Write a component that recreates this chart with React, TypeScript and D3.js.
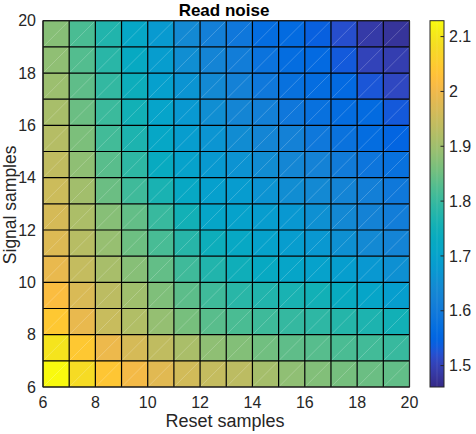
import React from 'react';
import * as d3 from 'd3';

// ---------- data ----------
const resetEdges = [6, 7, 8, 9, 10, 11, 12, 13, 14, 15, 16, 17, 18, 19, 20];
const signalEdges = [6, 7, 8, 9, 10, 11, 12, 13, 14, 15, 16, 17, 18, 19, 20];
// rows: signal samples 6..19 (bottom to top); columns: reset samples 6..19
const readNoise: number[][] = [
  [2.128, 2.081, 2.039, 2.007, 1.981, 1.959, 1.943, 1.933, 1.906, 1.883, 1.870, 1.858, 1.848, 1.840],
  [2.097, 2.044, 1.996, 1.965, 1.938, 1.912, 1.882, 1.871, 1.853, 1.837, 1.830, 1.819, 1.811, 1.800],
  [2.044, 1.991, 1.949, 1.920, 1.888, 1.859, 1.832, 1.819, 1.807, 1.797, 1.790, 1.779, 1.769, 1.753],
  [2.018, 1.970, 1.933, 1.901, 1.867, 1.835, 1.808, 1.784, 1.774, 1.763, 1.753, 1.731, 1.710, 1.689],
  [1.991, 1.943, 1.910, 1.875, 1.841, 1.808, 1.774, 1.747, 1.726, 1.710, 1.700, 1.689, 1.673, 1.657],
  [1.975, 1.928, 1.890, 1.850, 1.817, 1.781, 1.742, 1.721, 1.700, 1.687, 1.673, 1.657, 1.641, 1.628],
  [1.965, 1.914, 1.875, 1.841, 1.800, 1.753, 1.710, 1.700, 1.687, 1.673, 1.657, 1.639, 1.623, 1.609],
  [1.954, 1.903, 1.848, 1.808, 1.763, 1.721, 1.694, 1.684, 1.662, 1.649, 1.641, 1.627, 1.615, 1.597],
  [1.938, 1.882, 1.832, 1.790, 1.731, 1.700, 1.676, 1.662, 1.647, 1.633, 1.622, 1.604, 1.588, 1.578],
  [1.925, 1.864, 1.811, 1.769, 1.716, 1.687, 1.666, 1.647, 1.631, 1.620, 1.596, 1.581, 1.567, 1.551],
  [1.910, 1.848, 1.804, 1.753, 1.705, 1.675, 1.652, 1.631, 1.617, 1.594, 1.578, 1.567, 1.562, 1.532],
  [1.896, 1.837, 1.795, 1.742, 1.694, 1.665, 1.641, 1.620, 1.596, 1.578, 1.567, 1.560, 1.528, 1.509],
  [1.883, 1.827, 1.784, 1.726, 1.687, 1.652, 1.627, 1.609, 1.583, 1.567, 1.560, 1.533, 1.503, 1.495],
  [1.875, 1.819, 1.774, 1.716, 1.678, 1.641, 1.615, 1.594, 1.567, 1.562, 1.541, 1.519, 1.488, 1.477],
];
const colorLimits = [1.461, 2.129];
const xTicks = [6, 8, 10, 12, 14, 16, 18, 20];
const yTicks = [6, 8, 10, 12, 14, 16, 18, 20];
const colorbarTicks = [1.5, 1.6, 1.7, 1.8, 1.9, 2.0, 2.1];
const titleText = 'Read noise';
const xLabelText = 'Reset samples';
const yLabelText = 'Signal samples';

// MATLAB parula colormap (64 entries)
const PARULA = [
  '#352a87', '#363093', '#3637a0', '#353dad', '#3243ba', '#2c4ac7', '#2053d4', '#0f5cdd',
  '#0363e1', '#0268e1', '#046de0', '#0871de', '#0d75dc', '#1079da', '#127dd8', '#1481d6',
  '#1485d4', '#1389d3', '#108ed2', '#0c93d2', '#0998d1', '#079ccf', '#06a0cd', '#06a4ca',
  '#06a7c6', '#07a9c2', '#0aacbe', '#0faeb9', '#15b1b4', '#1db3af', '#25b5a9', '#2eb7a4',
  '#38b99e', '#42bb98', '#4dbc92', '#59bd8c', '#65be86', '#71bf80', '#7cbf7b', '#87bf77',
  '#92bf73', '#9cbf6f', '#a5be6b', '#aebe67', '#b7bd64', '#c0bc60', '#c8bc5d', '#d1bb59',
  '#d9ba56', '#e1b952', '#e9b94e', '#f1b94a', '#f8bb44', '#fdbe3d', '#ffc337', '#fec832',
  '#fcce2e', '#fad32a', '#f7d826', '#f5de21', '#f5e41d', '#f5eb18', '#f6f313', '#f9fb0e',
];

const W = 476;
const H = 434;
const FONT = '"Liberation Sans", Arial, Helvetica, sans-serif';
const TXT = '#262626';

export default function App() {
  const x = d3.scaleLinear().domain([6, 20]).range([43, 409.5]);
  const y = d3.scaleLinear().domain([6, 20]).range([387, 20.7]);
  const color = d3
    .scaleSequential(d3.piecewise(d3.interpolateRgb, PARULA))
    .domain(colorLimits as [number, number])
    .clamp(true);
  const cbX0 = 430;
  const cbX1 = 444;
  const cb = d3.scaleLinear().domain(colorLimits).range([387, 20.7]);

  const cells: JSX.Element[] = [];
  const diags: JSX.Element[] = [];
  readNoise.forEach((row, j) => {
    row.forEach((v, i) => {
      const x0 = x(resetEdges[i]);
      const x1 = x(resetEdges[i + 1]);
      const yb = y(signalEdges[j]);
      const yt = y(signalEdges[j + 1]);
      cells.push(
        <rect key={`c${j}-${i}`} x={x0} y={yt} width={x1 - x0} height={yb - yt} fill={color(v)} />
      );
      diags.push(
        <line key={`d${j}-${i}`} x1={x0} y1={yb} x2={x1} y2={yt} stroke="#ffffff" strokeOpacity={0.3} strokeWidth={0.7} />
      );
    });
  });

  const gridLines: JSX.Element[] = [];
  resetEdges.forEach((r, i) => {
    gridLines.push(<line key={`gv${i}`} x1={x(r)} x2={x(r)} y1={y(6)} y2={y(20)} stroke="#000" strokeWidth={1.2} />);
  });
  signalEdges.forEach((s, i) => {
    gridLines.push(<line key={`gh${i}`} x1={x(6)} x2={x(20)} y1={y(s)} y2={y(s)} stroke="#000" strokeWidth={1.2} />);
  });

  const stops = PARULA.map((c, i) => (
    <stop key={i} offset={`${(i / (PARULA.length - 1)) * 100}%`} stopColor={c} />
  ));

  return (
    <svg width={W} height={H} style={{ position: 'absolute', left: 0, top: 0, background: '#fff' }} fontFamily={FONT}>
      <defs>
        <linearGradient id="cbgrad" x1="0" y1="1" x2="0" y2="0">
          {stops}
        </linearGradient>
      </defs>
      <rect x={0} y={0} width={W} height={H} fill="#fff" />
      <g>{cells}</g>
      <g>{diags}</g>
      <g>{gridLines}</g>
      <rect x={x(6)} y={y(20)} width={x(20) - x(6)} height={y(6) - y(20)} fill="none" stroke={TXT} strokeWidth={1} />

      {xTicks.map((t) => (
        <text key={`xt${t}`} x={x(t)} y={408} textAnchor="middle" fontSize={16} fill={TXT}>
          {t}
        </text>
      ))}
      {yTicks.map((t) => (
        <text key={`yt${t}`} x={36} y={y(t)} dy="0.35em" textAnchor="end" fontSize={16} fill={TXT}>
          {t}
        </text>
      ))}

      <text x={224} y={15.5} textAnchor="middle" fontSize={17} fontWeight="bold" fill="#000">
        {titleText}
      </text>
      <text x={225} y={427} textAnchor="middle" fontSize={18} fill={TXT}>
        {xLabelText}
      </text>
      <text transform={`translate(16,${(y(6) + y(20)) / 2 + 1}) rotate(-90)`} textAnchor="middle" fontSize={17.5} fill={TXT}>
        {yLabelText}
      </text>

      <rect x={cbX0} y={cb(colorLimits[1])} width={cbX1 - cbX0} height={cb(colorLimits[0]) - cb(colorLimits[1])} fill="url(#cbgrad)" />
      <line x1={(cbX0 + cbX1) / 2} x2={(cbX0 + cbX1) / 2} y1={cb(colorLimits[1])} y2={cb(colorLimits[0])} stroke="#fff" strokeOpacity={0.15} strokeWidth={0.7} />
      <rect x={cbX0} y={cb(colorLimits[1])} width={cbX1 - cbX0} height={cb(colorLimits[0]) - cb(colorLimits[1])} fill="none" stroke={TXT} strokeWidth={1} />
      {colorbarTicks.map((t) => (
        <g key={`cb${t}`}>
          <line x1={cbX1 - 3.5} x2={cbX1} y1={cb(t)} y2={cb(t)} stroke={TXT} strokeWidth={1} />
          <text x={449} y={cb(t)} dy="0.35em" fontSize={16} fill={TXT}>
            {d3.format('')(t)}
          </text>
        </g>
      ))}
    </svg>
  );
}
